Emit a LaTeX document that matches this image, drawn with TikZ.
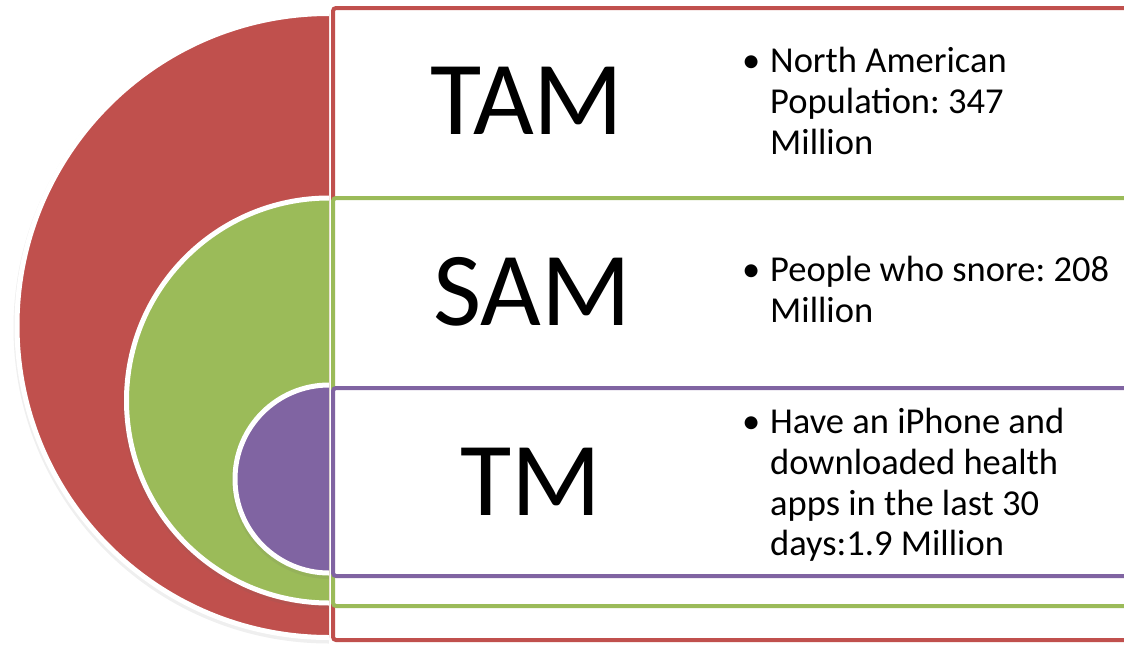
\documentclass[tikz,border=0pt]{standalone}
\usepackage{fontspec}
\setmainfont{Carlito}
\frenchspacing
\definecolor{cRed}{HTML}{C0504D}
\definecolor{cGreen}{HTML}{9BBB59}
\definecolor{cPurple}{HTML}{8064A2}
\begin{document}
\begin{tikzpicture}[x=1pt,y=-1pt,
  band/.style={line width=4pt, fill=white, rounded corners=3pt},
  bigword/.style={anchor=base, inner sep=0pt, font=\fontsize{105}{105}\selectfont},
  bullettext/.style={anchor=north west, inner sep=0pt, align=left, font=\fontsize{36.5}{40.8}\selectfont},
  ringshadow/.style={draw=black!60, opacity=0.10, line width=7pt},
  ring/.style={draw=white, line width=5pt}]
\clip (0,0) rectangle (1124,645);
\fill[white] (0,0) rectangle (1124,645);
% half discs
\path[ringshadow] (329,16) arc[start angle=90, end angle=270, radius=312pt];
\fill[cRed] (329,13.5) arc[start angle=90, end angle=270, radius=312pt] -- cycle;
\draw[ring] (329,13.5) arc[start angle=90, end angle=270, radius=312pt];
\path[ringshadow] (329,200.5) arc[start angle=90, end angle=270, radius=202.5pt];
\fill[cGreen] (329,198) arc[start angle=90, end angle=270, radius=202.5pt] -- cycle;
\draw[ring] (329,198) arc[start angle=90, end angle=270, radius=202.5pt];
\path[ringshadow] (329,387.5) arc[start angle=90, end angle=270, radius=94pt];
\fill[cPurple] (329,385) arc[start angle=90, end angle=270, radius=94pt] -- cycle;
\draw[ring] (329,385) arc[start angle=90, end angle=270, radius=94pt];
% bands
\draw[band, draw=cRed] (333,8) rectangle (1140,640);
\draw[band, draw=cGreen] (333,198) rectangle (1140,606);
\draw[band, draw=cPurple] (333,388) rectangle (1140,576);
% labels
\node[bigword] (tam) at (527,134) {TAM};
\node[bigword] (sam) at (532,325) {SAM};
\node[bigword] (tm) at (531,515) {TM};
\node[bullettext] (t1) at (770,47) {\llap{•\hspace{10pt}}North American\\Population: 347\\Million};
\node[bullettext] (t2) at (770,256) {\llap{•\hspace{10pt}}People who snore: 208\\Million};
\node[bullettext] (t3) at (770,408) {\llap{•\hspace{10pt}}Have an iPhone and\\downloaded health\\apps in the last 30\\days:1.9 Million};
\end{tikzpicture}
\end{document}
